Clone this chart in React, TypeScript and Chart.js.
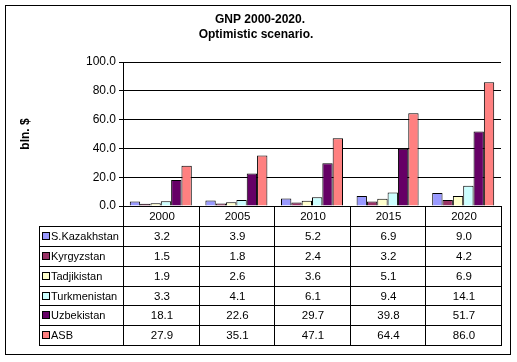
import React, { useEffect, useRef } from "react";
import { Chart, registerables } from "chart.js";

Chart.register(...registerables);

const categories = ["2000", "2005", "2010", "2015", "2020"];
const seriesNames = ["S.Kazakhstan", "Kyrgyzstan", "Tadjikistan", "Turkmenistan", "Uzbekistan", "ASB"];
const sKazakhstan = [3.2, 3.9, 5.2, 6.9, 9.0];
const kyrgyzstan = [1.5, 1.8, 2.4, 3.2, 4.2];
const tadjikistan = [1.9, 2.6, 3.6, 5.1, 6.9];
const turkmenistan = [3.3, 4.1, 6.1, 9.4, 14.1];
const uzbekistan = [18.1, 22.6, 29.7, 39.8, 51.7];
const asb = [27.9, 35.1, 47.1, 64.4, 86.0];
const seriesColors = ["#9999FF", "#993366", "#FFFFCC", "#CCFFFF", "#660066", "#FF8080"];
const titleLines = ["GNP 2000-2020.", "Optimistic scenario."];
const yTitle = "bln. $";

const FONT = "'Liberation Sans', Arial, sans-serif";

const tablePlugin = {
  id: "excelTable",
  afterDraw(chart: any) {
    const ctx = chart.ctx as CanvasRenderingContext2D;
    const area = chart.chartArea;
    const xs = chart.scales.x;
    const n = categories.length;
    const catW = area.width / n;
    const bounds: number[] = [];
    for (let i = 0; i <= n; i++) bounds.push(Math.round(xs.getPixelForValue(0) - catW / 2 + i * catW));
    const top = Math.round(area.bottom);
    const headerBottom = top + 20;
    const tableBottom = 345;
    const tableLeft = 39;
    const rows = seriesNames.length;
    const rowY: number[] = [];
    for (let i = 0; i <= rows; i++) rowY.push(Math.round(headerBottom + (i * (tableBottom - headerBottom)) / rows));

    ctx.save();
    ctx.strokeStyle = "#000";
    ctx.lineWidth = 1;

    // outer border
    ctx.strokeRect(5.5, 5.5, 505, 349);

    // title
    ctx.fillStyle = "#000";
    ctx.font = `bold 12px ${FONT}`;
    ctx.textAlign = "center";
    ctx.textBaseline = "middle";
    ctx.fillText(titleLines[0], 260, 20);
    ctx.fillText(titleLines[1], 256, 35);

    // table lines
    ctx.beginPath();
    bounds.forEach((b) => {
      ctx.moveTo(b + 0.5, top);
      ctx.lineTo(b + 0.5, tableBottom + 1);
    });
    ctx.moveTo(tableLeft + 0.5, headerBottom);
    ctx.lineTo(tableLeft + 0.5, tableBottom + 1);
    rowY.forEach((y) => {
      ctx.moveTo(tableLeft, y + 0.5);
      ctx.lineTo(bounds[n] + 1, y + 0.5);
    });
    ctx.stroke();

    // header labels
    ctx.font = `11.5px ${FONT}`;
    categories.forEach((c, i) => {
      ctx.fillText(c, (bounds[i] + bounds[i + 1]) / 2 + 1, (top + headerBottom) / 2 + 1);
    });

    // rows
    const datasets = chart.data.datasets;
    for (let r = 0; r < rows; r++) {
      const cy = (rowY[r] + rowY[r + 1]) / 2 + 1;
      // key
      ctx.fillStyle = seriesColors[r];
      ctx.fillRect(43, Math.round(cy) - 4, 6, 6);
      ctx.strokeRect(42.5, Math.round(cy) - 4.5, 7, 7);
      ctx.fillStyle = "#000";
      ctx.textAlign = "left";
      ctx.font = `11px ${FONT}`;
      ctx.fillText(seriesNames[r], 51, cy);
      ctx.textAlign = "center";
      ctx.font = `11.5px ${FONT}`;
      const vals = datasets[r].data as number[];
      vals.forEach((v, i) => {
        ctx.fillText(v.toFixed(1), (bounds[i] + bounds[i + 1]) / 2 + 1, cy);
      });
    }
    ctx.restore();
  },
};

export default function App() {
  const ref = useRef<HTMLCanvasElement>(null);
  useEffect(() => {
    if (!ref.current) return;
    const seriesValues = [sKazakhstan, kyrgyzstan, tadjikistan, turkmenistan, uzbekistan, asb];
    const chart = new Chart(ref.current, {
      type: "bar",
      data: {
        labels: categories,
        datasets: seriesNames.map((name, i) => ({
          label: name,
          data: seriesValues[i],
          backgroundColor: seriesColors[i],
          borderColor: "#000",
          borderWidth: 1,
          categoryPercentage: 0.82,
          barPercentage: 1.0,
        })),
      },
      options: {
        responsive: false,
        animation: false,
        devicePixelRatio: 1,
        layout: { padding: { left: 0, top: 62, right: 16, bottom: 156 } },
        plugins: {
          legend: { display: false },
          title: { display: false },
          tooltip: { enabled: false },
        },
        scales: {
          x: { display: false, offset: true },
          y: {
            min: 0,
            max: 100,
            ticks: {
              stepSize: 20,
              color: "#000",
              padding: 3,
              font: { family: FONT, size: 12 },
              callback: (v: any) => Number(v).toFixed(1),
            },
            grid: { color: "#000", lineWidth: 1, tickLength: 4 },
            border: { color: "#000" },
            title: {
              display: true,
              text: yTitle,
              color: "#000",
              font: { family: FONT, size: 12, weight: "bold" },
              padding: { top: 18, bottom: 0 },
            },
            afterFit: (s: any) => {
              s.width = 123;
            },
          },
        },
      },
      plugins: [tablePlugin],
    });
    return () => chart.destroy();
  }, []);
  return (
    <div style={{ position: "absolute", left: 0, top: 0, width: 517, height: 362, background: "#fff" }}>
      <canvas ref={ref} width={517} height={362} style={{ display: "block" }} />
    </div>
  );
}
